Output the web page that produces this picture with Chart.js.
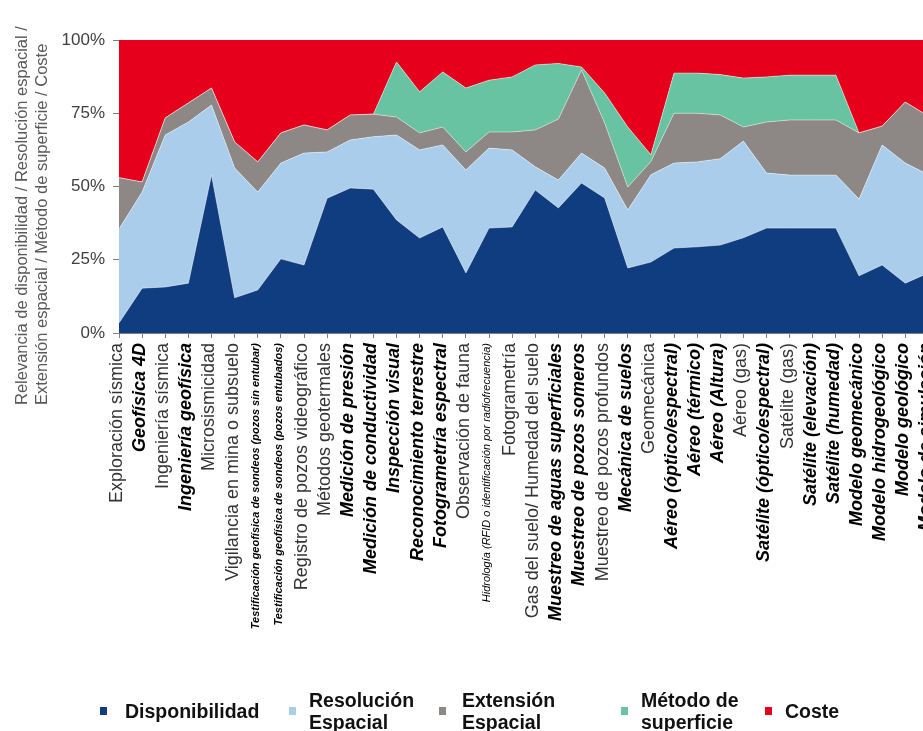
<!DOCTYPE html>
<html>
<head>
<meta charset="utf-8">
<script src="https://cdn.jsdelivr.net/npm/chart.js@4.4.0/dist/chart.umd.min.js"></script>
<style>
  html, body { margin: 0; padding: 0; overflow: hidden; background: #fff; width: 923px; height: 731px; }
  #wrap { position: absolute; left: 0; top: 0; width: 955px; height: 731px; }
  #legend { position: absolute; left: 0; top: 689px; width: 923px; height: 44px;
            font: bold 19.5px "Liberation Sans", Arial, sans-serif; color: #111; }
  .item { position: absolute; top: 0; height: 44px; display: flex; align-items: center; }
  .box { width: 7px; height: 8px; flex: none; }
  .txt { line-height: 22px; }
</style>
</head>
<body>
<div id="wrap"><canvas id="myChart"></canvas></div>
<div id="legend"></div>
<script>
// categories along the x axis
var categories = [
  "Exploración sísmica", "Geofísica 4D", "Ingeniería sísmica", "Ingeniería geofísica",
  "Microsismicidad", "Vigilancia en mina o subsuelo",
  "Testificación geofísica de sondeos (pozos sin entubar)",
  "Testificación geofísica de sondeos (pozos entubados)",
  "Registro de pozos videográfico", "Métodos geotermales", "Medición de presión",
  "Medición de conductividad", "Inspección visual", "Reconocimiento terrestre",
  "Fotogrametría espectral", "Observación de fauna",
  "Hidrología (RFID o identificación por radiofrecuencia)", "Fotogrametría",
  "Gas del suelo/ Humedad del suelo", "Muestreo de aguas superficiales",
  "Muestreo de pozos someros", "Muestreo de pozos profundos", "Mecánica de suelos",
  "Geomecánica", "Aéreo (óptico/espectral)", "Aéreo (térmico)", "Aéreo (Altura)",
  "Aéreo (gas)", "Satélite (óptico/espectral)", "Satélite (gas)", "Satélite (elevación)",
  "Satélite (humedad)", "Modelo geomecánico", "Modelo hidrogeológico", "Modelo geológico",
  "Modelo de simulación"
];

// series values (% of the total for each category)
var disponibilidad = [3.4, 15.3, 15.7, 17, 53.9, 12, 14.7, 25.3, 23.2, 46, 49.5, 49.1, 38.6, 32.4, 36.2, 20.5, 35.8, 36.2, 48.8, 42.7, 51.2, 46.1, 22.2, 24.2, 29, 29.4, 30, 32.5, 35.8, 35.8, 35.8, 35.8, 19.5, 23.2, 17, 20.5];
var resolucion = [32.1, 32.8, 51.9, 55, 23.9, 44.3, 33.4, 32.7, 38.2, 15.8, 16.4, 17.9, 29, 30.1, 28, 35.1, 27.3, 26.3, 7.9, 9.5, 10.2, 10.2, 19.8, 29.8, 29, 29, 29.5, 33, 18.8, 18.1, 18.1, 18.1, 26.2, 41, 41, 33.5];
var extension = [17.5, 3.4, 5.8, 6.5, 5.8, 8.9, 10.3, 10.3, 9.6, 7.5, 8.5, 7.7, 6.1, 5.8, 6.1, 6.2, 5.5, 6.1, 12.6, 20.8, 28.4, 15.4, 7.8, 4.5, 17, 16.6, 14.9, 4.8, 17.4, 18.8, 18.8, 18.8, 22.6, 6.4, 20.8, 20];
var metodo = [0, 0, 0, 0, 0, 0, 0, 0, 0, 0, 0, 0, 18.8, 14, 18.8, 21.8, 17.7, 18.8, 22.2, 19, 1, 10.2, 20.5, 2.3, 13.7, 13.7, 13.8, 16.7, 15.4, 15.3, 15.3, 15.3, 0, 0, 0, 0];
var coste = [47, 48.5, 26.6, 21.5, 16.4, 34.8, 41.6, 31.7, 29, 30.7, 25.6, 25.3, 7.5, 17.7, 10.9, 16.4, 13.7, 12.6, 8.5, 8, 9.2, 18.1, 29.7, 39.2, 11.3, 11.3, 11.8, 13, 12.6, 12, 12, 12, 31.7, 29.4, 21.2, 26];

var seriesNames = ["Disponibilidad", "Resolución Espacial", "Extensión Espacial", "Método de superficie", "Coste"];
var yTicks = [0, 25, 50, 75, 100];
var yTitle = ["Relevancia de disponibilidad / Resolución espacial /", "Extensión espacial / Método de superficie / Coste"];

// styling (kept apart from the data)
var colors = ["#0f3d7f", "#aacdeb", "#8d8785", "#68c3a2", "#e6001b"];
// n = normal, bi = bold italic, sbi = small bold italic, si = small italic
var labelStyle = ["n", "bi", "n", "bi", "n", "n", "sbi", "sbi", "n", "n", "bi", "bi", "bi", "bi", "bi", "n", "si", "n", "n", "bi", "bi", "n", "bi", "n", "bi", "bi", "bi", "n", "bi", "n", "bi", "bi", "bi", "bi", "bi", "bi"];
var legendLeft = [100, 289, 439, 621, 765];
var legendGap = [18, 13, 16, 13, 13];
var FONT = '"Liberation Sans", Arial, sans-serif';

function tickFont(ctx) {
  var s = labelStyle[ctx.index];
  if (s === "bi") return { family: FONT, size: 18, weight: "bold", style: "italic" };
  if (s === "sbi") return { family: FONT, size: 11, weight: "bold", style: "italic" };
  if (s === "si") return { family: FONT, size: 11, weight: "normal", style: "italic" };
  return { family: FONT, size: 18, weight: "normal", style: "normal" };
}

//draw the rotated y axis title
var yTitlePlugin = {
  id: "yTitle",
  afterDraw: function (chart) {
    var c = chart.ctx;
    c.save();
    c.font = '16.5px ' + FONT;
    c.fillStyle = "#595959";
    c.textAlign = "left";
    c.textBaseline = "middle";
    for (var i = 0; i < yTitle.length; i++) {
      c.save();
      c.translate(22 + i * 20, 405);
      c.rotate(-Math.PI / 2);
      c.fillText(yTitle[i], 0, 0);
      c.restore();
    }
    c.restore();
  }
};

var values = [disponibilidad, resolucion, extension, metodo, coste];
var datasets = [];
for (var i = 0; i < values.length; i++) {
  datasets.push({
    label: seriesNames[i],
    data: values[i],
    backgroundColor: colors[i],
    borderColor: "rgba(255,255,255,0.45)",
    borderWidth: i === 4 ? 0 : 1,
    fill: i === 0 ? "origin" : "-1",
    pointRadius: 0,
    tension: 0
  });
}

var ctx = document.getElementById("myChart").getContext("2d");
var myChart = new Chart(ctx, {
  type: "line",
  data: { labels: categories, datasets: datasets },
  plugins: [yTitlePlugin],
  options: {
    responsive: true,
    maintainAspectRatio: false,
    animation: false,
    layout: { padding: { left: 59, top: 40, right: 0, bottom: 53 } },
    plugins: { legend: { display: false }, tooltip: { enabled: false } },
    scales: {
      x: {
        type: "category",
        offset: false,
        grid: { drawOnChartArea: false, tickLength: 5, color: "#7f7f7f" },
        border: { color: "#7f7f7f" },
        afterFit: function (scale) { scale.height = 345; },
        ticks: {
          autoSkip: false,
          maxRotation: 90,
          minRotation: 90,
          padding: 5,
          labelOffset: -2,
          font: tickFont,
          color: function (c) { return labelStyle[c.index] === "n" ? "#333" : "#000"; }
        }
      },
      y: {
        stacked: true,
        min: 0,
        max: 100,
        grid: { drawOnChartArea: false, tickLength: 6, color: "#7f7f7f" },
        border: { color: "#7f7f7f" },
        afterFit: function (scale) { scale.width = 60; },
        afterBuildTicks: function (scale) {
          scale.ticks = yTicks.map(function (v) { return { value: v }; });
        },
        ticks: {
          padding: 8,
          color: "#404040",
          font: { family: FONT, size: 17 },
          callback: function (v) { return v + "%"; }
        }
      }
    }
  }
});

// html legend built from the datasets
var legend = document.getElementById("legend");
myChart.data.datasets.forEach(function (ds, i) {
  var item = document.createElement("div");
  item.className = "item";
  item.style.left = legendLeft[i] + "px";
  var box = document.createElement("span");
  box.className = "box";
  box.style.background = ds.backgroundColor;
  box.style.marginRight = legendGap[i] + "px";
  var txt = document.createElement("span");
  txt.className = "txt";
  txt.style.maxWidth = "112px";
  txt.textContent = ds.label;
  item.appendChild(box);
  item.appendChild(txt);
  legend.appendChild(item);
});
</script>
</body>
</html>
